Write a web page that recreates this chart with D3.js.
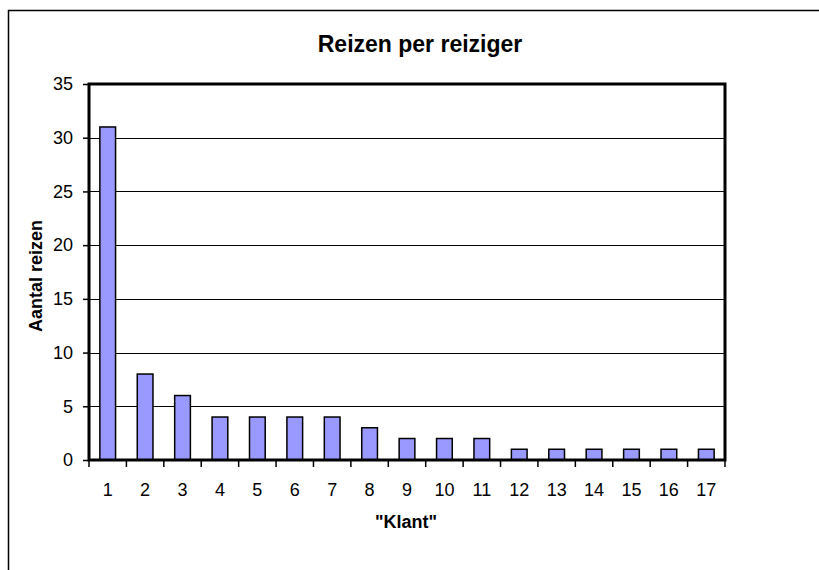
<!DOCTYPE html>
<html><head><meta charset="utf-8">
<script src="https://cdn.jsdelivr.net/npm/d3@7"></script>
<style>body{margin:0;background:#fff}svg{display:block}text{font-family:"Liberation Sans",Arial,sans-serif}</style>
</head><body><svg id="c" width="819" height="570"></svg>
<script>
const categories = ["1","2","3","4","5","6","7","8","9","10","11","12","13","14","15","16","17"];
const values = [31,8,6,4,4,4,4,3,2,2,2,1,1,1,1,1,1];
const yTicks = [0,5,10,15,20,25,30,35];
const title = "Reizen per reiziger";
const xTitle = "\"Klant\"";
const yTitle = "Aantal reizen";

const svg = d3.select("#c");
const L = 89, R = 725, T = 84, B = 460;
svg.append("rect").attr("x",8.5).attr("y",10.5).attr("width",830).attr("height",600)
  .attr("fill","#fff").attr("stroke","#000").attr("stroke-width",1.5);

const x = d3.scaleBand().domain(categories).range([L,R]).paddingInner(0.58).paddingOuter(0.29);
const xb = d3.scaleBand().domain(categories).range([L,R]);
const y = d3.scaleLinear().domain([0,35]).range([B,T]);

// gridlines
svg.append("g").selectAll("line").data(yTicks.filter(t=>t>0&&t<35)).join("line")
  .attr("x1",L).attr("x2",R).attr("y1",d=>Math.round(y(d))+0.5).attr("y2",d=>Math.round(y(d))+0.5)
  .attr("stroke","#000").attr("stroke-width",1);

// bars
svg.append("g").selectAll("rect").data(values).join("rect")
  .attr("x",(d,i)=>x(categories[i])).attr("width",x.bandwidth())
  .attr("y",d=>y(d)).attr("height",d=>B-y(d))
  .attr("fill","#9999FF").attr("stroke","#000").attr("stroke-width",1.5);

// plot border
svg.append("rect").attr("x",L).attr("y",T).attr("width",R-L).attr("height",B-T)
  .attr("fill","none").attr("stroke","#000").attr("stroke-width",3);

// y axis
const ya = d3.axisLeft(y).tickValues(yTicks).tickSize(6).tickPadding(10);
const gy = svg.append("g").attr("transform",`translate(${L},0)`).call(ya);
gy.select(".domain").remove();
gy.selectAll("line").attr("stroke","#000").attr("stroke-width",1.5);
gy.selectAll("text").attr("font-size",18).attr("fill","#000");

// x axis ticks at category boundaries
const bounds = categories.map(c=>xb(c)).concat([R]);
svg.append("g").selectAll("line").data(bounds).join("line")
  .attr("x1",d=>d).attr("x2",d=>d).attr("y1",B).attr("y2",B+7)
  .attr("stroke","#000").attr("stroke-width",1.5);
svg.append("g").selectAll("text").data(categories).join("text")
  .attr("x",d=>xb(d)+xb.bandwidth()/2).attr("y",496)
  .attr("text-anchor","middle").attr("font-size",18).text(d=>d);

svg.append("text").attr("x",420).attr("y",52).attr("text-anchor","middle")
  .attr("font-size",23).attr("font-weight","bold").text(title);
svg.append("text").attr("x",406).attr("y",528).attr("text-anchor","middle")
  .attr("font-size",18).attr("font-weight","bold").text(xTitle);
svg.append("text").attr("transform",`translate(42,276) rotate(-90)`).attr("text-anchor","middle")
  .attr("font-size",18).attr("font-weight","bold").text(yTitle);
</script></body></html>
